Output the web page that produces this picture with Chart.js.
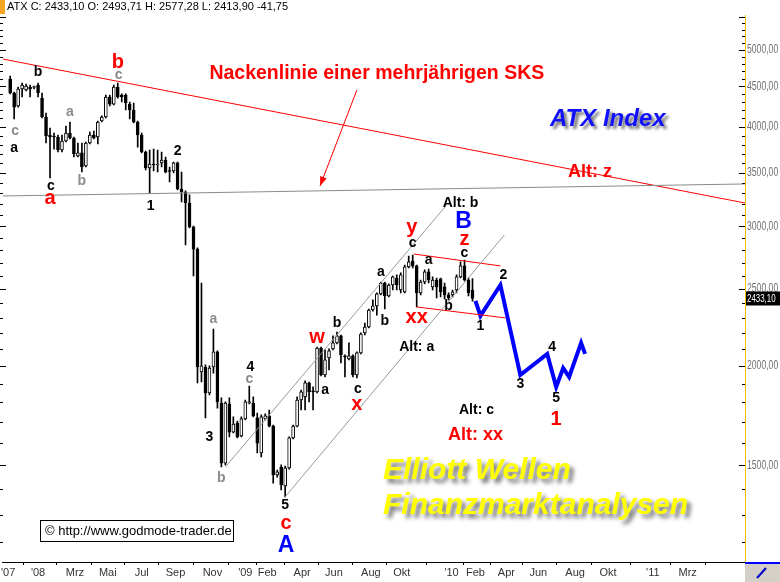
<!DOCTYPE html>
<html>
<head>
<meta charset="utf-8">
<script src="https://cdn.jsdelivr.net/npm/chart.js@4.4.0/dist/chart.umd.min.js"></script>
<style>
  html, body { margin: 0; padding: 0; background: #fff; }
  #wrap { width: 780px; height: 582px; }
</style>
</head>
<body>
<div id="wrap"><canvas id="myChart" width="780" height="582"></canvas></div>
<script>
// ATX weekly candles, index 0 = late Nov 2007, last = mid Feb 2010
const opens = [4597, 4414, 4251, 4466, 4453, 4492, 4485, 4518, 4350, 4118,
  3908, 3897, 3886, 3742, 3841, 3931, 3874, 3678, 3710, 3572,
  3819, 3908, 3886, 4070, 4118, 4363, 4275, 4492, 4389, 4389,
  4275, 4202, 4058, 3908, 3720, 3552, 3593, 3583, 3604, 3635,
  3521, 3521, 3604, 3342, 3313, 3209, 2994, 2808, 1966, 1995,
  1850, 1995, 2084, 1797, 1510, 1792, 1652, 1696, 1633, 1716,
  1797, 1797, 1721, 1555, 1716, 1731, 1681, 1459, 1493, 1413,
  1489, 1624, 1681, 1813, 1829, 1905, 1861, 1856, 2108, 1949,
  2048, 2102, 2139, 2183, 2060, 2042, 2060, 1949, 2078, 2202,
  2240, 2353, 2381, 2466, 2545, 2452, 2530, 2582, 2494, 2480,
  2666, 2712, 2674, 2473, 2552, 2628, 2516, 2567, 2575, 2516,
  2459, 2459, 2494, 2590, 2674, 2567, 2493.71];
const highs = [4637, 4427, 4492, 4544, 4531, 4518, 4505, 4544, 4414, 4166,
  3988, 3931, 3908, 3908, 4011, 4058, 3886, 3819, 3819, 3830,
  3942, 3954, 4070, 4130, 4389, 4389, 4518, 4544, 4402, 4402,
  4300, 4288, 4070, 3931, 3731, 3742, 3752, 3742, 3720, 3667,
  3562, 3614, 3614, 3511, 3323, 3285, 3002, 2817, 2545, 2007,
  2001, 2227, 2090, 1824, 1803, 1824, 1726, 1706, 1726, 1813,
  1888, 1829, 1746, 1736, 1741, 1761, 1686, 1480, 1502, 1497,
  1629, 1686, 1829, 1866, 1916, 1910, 1883, 2114, 2114, 2096,
  2102, 2183, 2208, 2189, 2066, 2139, 2066, 2084, 2202, 2266,
  2360, 2423, 2473, 2552, 2552, 2538, 2597, 2605, 2620, 2681,
  2752, 2760, 2681, 2567, 2643, 2650, 2590, 2582, 2582, 2545,
  2473, 2494, 2605, 2705, 2720, 2582, 2577.28];
const lows = [4402, 4094, 4238, 4363, 4440, 4363, 4466, 4363, 4106, 3819,
  3450, 3752, 3720, 3720, 3830, 3863, 3667, 3667, 3511, 3562,
  3808, 3863, 3808, 4058, 4106, 4251, 4263, 4350, 4300, 4202,
  4094, 4047, 3774, 3710, 3531, 3304, 3521, 3511, 3562, 3501,
  3410, 3501, 3332, 3218, 2841, 2985, 2597, 1905, 1910, 1721,
  1840, 1960, 1771, 1493, 1502, 1629, 1648, 1624, 1629, 1711,
  1792, 1726, 1555, 1537, 1711, 1677, 1425, 1450, 1397, 1369,
  1484, 1619, 1677, 1761, 1761, 1803, 1761, 1850, 1944, 1938,
  1978, 2096, 2133, 2018, 1938, 2036, 1938, 1932, 2072, 2189,
  2234, 2346, 2319, 2459, 2360, 2445, 2494, 2494, 2473, 2473,
  2658, 2658, 2374, 2459, 2538, 2545, 2494, 2437, 2445, 2430,
  2423, 2445, 2473, 2582, 2560, 2452, 2413.90];
const closes = [4414, 4238, 4466, 4518, 4505, 4466, 4492, 4414, 4118, 3897,
  3886, 3886, 3742, 3841, 3931, 3874, 3699, 3710, 3562, 3819,
  3908, 3874, 4058, 4118, 4363, 4275, 4492, 4363, 4363, 4288,
  4202, 4058, 3908, 3720, 3552, 3593, 3583, 3593, 3635, 3511,
  3516, 3604, 3342, 3313, 3209, 2994, 2808, 1995, 2001, 1850,
  1989, 2084, 1803, 1510, 1797, 1652, 1691, 1629, 1716, 1803,
  1803, 1731, 1600, 1726, 1731, 1681, 1459, 1472, 1417, 1489,
  1624, 1681, 1813, 1856, 1905, 1856, 1856, 2108, 1949, 2036,
  2090, 2139, 2183, 2066, 2054, 2060, 1949, 2078, 2195, 2240,
  2353, 2381, 2466, 2545, 2452, 2530, 2590, 2530, 2605, 2666,
  2705, 2674, 2473, 2552, 2628, 2567, 2567, 2516, 2480, 2459,
  2437, 2480, 2590, 2674, 2567, 2474.85, 2433.10];

// x axis: week positions of the month labels
const xTickWeeks = [-0.5, 7, 16.25, 24.5, 33, 41.5, 50.75, 59, 64.5, 73.25, 81.25,
  90.5, 98.25, 110.75, 116.75, 124.5, 132.5, 141.75, 150, 161.25, 170];
const xTickLabels = ["'07", "'08", 'Mrz', 'Mai', 'Jul', 'Sep', 'Nov', "'09", 'Feb', 'Apr', 'Jun',
  'Aug', 'Okt', "'10", 'Feb', 'Apr', 'Jun', 'Aug', 'Okt', "'11", 'Mrz'];
const yTicks = [1500, 2000, 2500, 3000, 3500, 4000, 4500, 5000];

// drawn trend lines (week, value)
const supportWeeks = [-1.875, 184.375];
const supportValues = [3275, 3391];
const neckWeeks = [-1.875, 184.375];
const neckValues = [4871, 3209];
const chanUpWeeks = [54, 109.5];
const chanUpValues = [1493, 3190];
const chanLowWeeks = [69, 124];
const chanLowValues = [1369, 2925];
const boxUpWeeks = [101.25, 123];
const boxUpValues = [2768, 2674];
const boxLowWeeks = [102, 124.25];
const boxLowValues = [2374, 2300];
const projWeeks = [116.75, 118, 123, 128, 134.75, 137, 138.75, 140.25, 143.25, 144.25];
const projValues = [2416, 2313, 2530, 1949, 2072, 1883, 1989, 1938, 2139, 2072];
const arrowWeeks = [87, 77.75];
const arrowValues = [4453, 3371];

// wave counts: text, week, value, style
const waveLabels = [
  ['b', 7, 4691, 'k'], ['c', 1.25, 3954, 'g'], ['a', 1, 3764, 'k'],
  ['c', 10.25, 3371, 'k'], ['a', 10, 3247, 'r'], ['a', 15, 4178, 'g'], ['b', 18, 3420, 'g'],
  ['b', 27, 4829, 'r'], ['c', 27.25, 4651, 'g'], ['2', 42, 3731, 'k'], ['1', 35.25, 3181, 'k'],
  ['a', 51, 2293, 'g'], ['3', 50, 1629, 'k'], ['4', 60.25, 1995, 'k'], ['c', 60, 1927, 'g'],
  ['b', 53, 1446, 'g'], ['5', 69, 1337, 'k'], ['c', 69.25, 1269, 'r'], ['A', 69.25, 1187, 'B'],
  ['w', 77, 2176, 'r'], ['a', 79, 1866, 'k'], ['b', 82, 2266, 'k'], ['c', 87.25, 1872, 'k'],
  ['x', 87, 1792, 'r'], ['a', 93, 2628, 'k'], ['b', 94, 2280, 'k'], ['y', 100.75, 2985, 'r'],
  ['c', 101, 2858, 'k'], ['a', 105, 2720, 'k'], ['b', 110, 2381, 'k'], ['xx', 102, 2300, 'r'],
  ['Alt: b', 113, 3209, 'k'], ['B', 113.75, 3037, 'B'], ['z', 114, 2891, 'r'], ['c', 114, 2776, 'k'],
  ['Alt: a', 102, 2114, 'k'], ['1', 118, 2247, 'k'], ['2', 123.75, 2605, 'k'], ['3', 128, 1899, 'k'],
  ['4', 136, 2114, 'k'], ['5', 137, 1824, 'k'], ['1', 137, 1711, 'r'], ['Alt: c', 117, 1761, 'k'],
  ['Alt: xx', 116.75, 1638, 'rs'], ['Alt: z', 145.5, 3511, 'rs'],
  ['Nackenlinie einer mehrjährigen SKS', 92, 4664, 'rt']
];

const FONT = '"Liberation Sans", Arial, sans-serif';
const labelStyles = {
  k: { font: 'bold 14px ' + FONT, color: '#000' },
  g: { font: 'bold 14px ' + FONT, color: '#8c8c8c' },
  r: { font: 'bold 20px ' + FONT, color: '#ff0000' },
  rs: { font: 'bold 18px ' + FONT, color: '#ff0000' },
  rt: { font: 'bold 19.5px ' + FONT, color: '#ff0000' },
  B: { font: 'bold 23px ' + FONT, color: '#0000ff' }
};

const fmt = v => v.toFixed(2).replace('.', ',');
const idx = closes.map((_, i) => i);

function lineSet(xs, ys, color, width) {
  return {
    type: 'line',
    data: xs.map((x, k) => ({ x: x, y: ys[k] })),
    borderColor: color,
    borderWidth: width,
    pointRadius: 0,
    fill: false,
    tension: 0,
    order: 1
  };
}

// narrow text: squeeze the font horizontally
function narrowText(ctx, text, x, y, squeeze) {
  ctx.save();
  ctx.translate(x, y);
  ctx.scale(squeeze, 1);
  ctx.fillText(text, 0, 0);
  ctx.restore();
}

const overlay = {
  id: 'overlay',
  beforeDraw(chart) {
    const ctx = chart.ctx;
    ctx.save();
    ctx.fillStyle = '#fff';
    ctx.fillRect(0, 0, chart.width, chart.height);
    ctx.restore();
  },
  afterDatasetsDraw(chart) {
    const { ctx } = chart;
    const x = chart.scales.x, y = chart.scales.y;
    ctx.save();

    // arrow to the neckline
    const x1 = x.getPixelForValue(arrowWeeks[0]), y1 = y.getPixelForValue(arrowValues[0]);
    const x2 = x.getPixelForValue(arrowWeeks[1]), y2 = y.getPixelForValue(arrowValues[1]);
    ctx.strokeStyle = '#ff0000';
    ctx.fillStyle = '#ff0000';
    ctx.lineWidth = 1;
    ctx.beginPath(); ctx.moveTo(x1, y1); ctx.lineTo(x2, y2); ctx.stroke();
    const ang = Math.atan2(y2 - y1, x2 - x1);
    ctx.beginPath();
    ctx.moveTo(x2, y2);
    ctx.lineTo(x2 - 10 * Math.cos(ang - 0.35), y2 - 10 * Math.sin(ang - 0.35));
    ctx.lineTo(x2 - 10 * Math.cos(ang + 0.35), y2 - 10 * Math.sin(ang + 0.35));
    ctx.closePath(); ctx.fill();

    // wave labels
    ctx.textAlign = 'center';
    ctx.textBaseline = 'middle';
    waveLabels.forEach(([t, w, v, s]) => {
      ctx.font = labelStyles[s].font;
      ctx.fillStyle = labelStyles[s].color;
      ctx.fillText(t, x.getPixelForValue(w), y.getPixelForValue(v));
    });

    // shadowed titles
    ctx.textAlign = 'left';
    ctx.shadowColor = 'rgba(70,70,70,0.75)';
    ctx.shadowBlur = 3;
    ctx.shadowOffsetX = 3;
    ctx.shadowOffsetY = 3;
    ctx.font = 'italic bold 24px ' + FONT;
    ctx.fillStyle = '#1010ff';
    ctx.fillText('ATX Index', 550, 119);
    ctx.shadowBlur = 4;
    ctx.shadowOffsetX = 4;
    ctx.shadowOffsetY = 4;
    ctx.font = 'italic bold 30px ' + FONT;
    ctx.fillStyle = '#ffff00';
    ctx.fillText('Elliott Wellen', 383, 471);
    ctx.fillText('Finanzmarktanalysen', 383, 506);
    ctx.shadowColor = 'transparent';

    // copyright box
    ctx.fillStyle = '#fff';
    ctx.fillRect(40.5, 520.5, 193, 21);
    ctx.strokeStyle = '#000';
    ctx.strokeRect(40.5, 520.5, 193, 21);
    ctx.fillStyle = '#000';
    ctx.font = '13px ' + FONT;
    ctx.fillText('\u00a9 http://www.godmode-trader.de', 45, 531);
    ctx.restore();
  },
  afterDraw(chart) {
    const { ctx, chartArea: a } = chart;
    const y = chart.scales.y;
    ctx.save();
    // minor ticks on both edges
    ctx.strokeStyle = '#000';
    ctx.lineWidth = 1;
    ctx.beginPath();
    for (let v = 1200; v <= 5500; v += 100) {
      const py = Math.round(y.getPixelForValue(v)) + 0.5;
      const len = v % 500 === 0 ? 6 : 3;
      ctx.moveTo(0, py); ctx.lineTo(len, py);
      ctx.moveTo(a.right - len, py); ctx.lineTo(a.right, py);
    }
    ctx.stroke();

    // right axis labels from the scale ticks
    ctx.font = '12px ' + FONT;
    ctx.textBaseline = 'middle';
    ctx.textAlign = 'left';
    ctx.fillStyle = '#707070';
    y.ticks.forEach(t => narrowText(ctx, fmt(t.value), a.right + 2, y.getPixelForValue(t.value), 0.72));

    // header line
    const n = closes.length - 1;
    ctx.fillStyle = '#f5a623';
    ctx.fillRect(0, 0, 5, 14);
    ctx.fillStyle = '#000';
    ctx.font = '11px ' + FONT;
    ctx.fillText('ATX C: ' + fmt(closes[n]) + ' O: ' + fmt(opens[n]) + ' H: ' + fmt(highs[n]) +
      ' L: ' + fmt(lows[n]) + ' ' + fmt(closes[n] - closes[n - 1]), 7, 7);

    // last price box
    const py = y.getPixelForValue(closes[n]);
    ctx.fillStyle = '#000';
    ctx.fillRect(a.right + 1, py - 7, 35, 14);
    ctx.fillStyle = '#fff';
    narrowText(ctx, fmt(closes[n]), a.right + 2, py, 0.72);

    // bottom right tool box
    ctx.fillStyle = '#d4d0c8';
    ctx.fillRect(a.right, a.bottom + 1, 35, 20);
    ctx.fillStyle = '#0000ff';
    ctx.fillRect(a.right, a.bottom, 35, 2);
    ctx.strokeStyle = '#0000cc';
    ctx.lineWidth = 2;
    ctx.beginPath(); ctx.moveTo(757, 578); ctx.lineTo(766, 568); ctx.stroke();
    ctx.restore();
  }
};

new Chart(document.getElementById('myChart'), {
  type: 'bar',
  data: {
    datasets: [
      lineSet(supportWeeks, supportValues, '#8a8a8a', 1),
      lineSet(neckWeeks, neckValues, '#ff0000', 1),
      lineSet(chanUpWeeks, chanUpValues, '#999999', 1),
      lineSet(chanLowWeeks, chanLowValues, '#999999', 1),
      lineSet(boxUpWeeks, boxUpValues, '#ff0000', 1),
      lineSet(boxLowWeeks, boxLowValues, '#ff0000', 1),
      lineSet(projWeeks, projValues, '#0000ff', 4),
      {
        label: 'Body',
        data: idx.map(i => ({ x: i, y: [opens[i], closes[i]] })),
        backgroundColor: idx.map(i => closes[i] >= opens[i] ? '#ffffff' : '#000000'),
        borderColor: '#000',
        borderWidth: 1,
        borderSkipped: false,
        barThickness: 3,
        minBarLength: 1,
        grouped: false,
        order: 2
      },
      {
        label: 'Wick',
        data: idx.map(i => ({ x: i, y: [lows[i], highs[i]] })),
        backgroundColor: '#000',
        borderWidth: 0,
        barThickness: 1,
        grouped: false,
        order: 3
      }
    ]
  },
  options: {
    responsive: false,
    animation: false,
    layout: { padding: { top: 15, left: 0, right: 0, bottom: 0 } },
    plugins: { legend: { display: false }, tooltip: { enabled: false } },
    scales: {
      x: {
        type: 'linear',
        min: -1.875,
        max: 184.375,
        offset: false,
        afterBuildTicks: s => { s.ticks = xTickWeeks.map(v => ({ value: v })); },
        afterFit: s => { s.height = 20; },
        ticks: {
          autoSkip: false,
          maxRotation: 0,
          padding: 1,
          color: '#333',
          font: { family: FONT, size: 11 },
          callback: (v, i) => xTickLabels[i]
        },
        grid: { display: true, drawOnChartArea: false, drawTicks: true, tickLength: 3, color: '#000' },
        border: { display: true, color: '#000', width: 1 }
      },
      y: {
        type: 'logarithmic',
        position: 'right',
        min: 1133.5,
        max: 5534,
        afterBuildTicks: s => { s.ticks = yTicks.map(v => ({ value: v })); },
        afterFit: s => { s.width = 35; },
        ticks: { display: false },
        grid: { display: false, drawTicks: false },
        border: { display: true, color: '#f2c200', width: 1 }
      }
    }
  },
  plugins: [overlay]
});
</script>
</body>
</html>
